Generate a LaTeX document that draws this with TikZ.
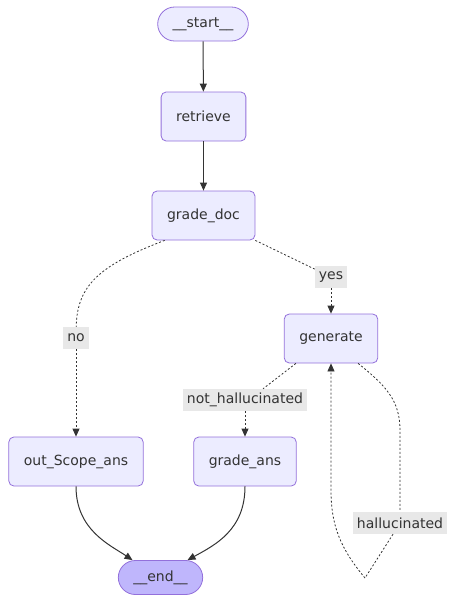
\documentclass[tikz,border=0pt]{standalone}
\usepackage{fontspec}
\setmainfont{DejaVu Sans}
\usetikzlibrary{arrows.meta}
\definecolor{nodefill}{HTML}{ECECFF}
\definecolor{nodeline}{HTML}{9370DB}
\definecolor{stopfill}{HTML}{BFB6FC}
\definecolor{lblfill}{HTML}{E8E8E8}
\definecolor{ink}{HTML}{333333}

\begin{document}
\begin{tikzpicture}[x=1pt, y=-1pt, font=\fontsize{14}{16}\selectfont, text=ink,
  box/.style={draw=nodeline, fill=nodefill, line width=0.8pt, rounded corners=5pt,
    minimum height=49pt, inner xsep=15pt},
  pill/.style={box, rounded corners=17pt, minimum height=34pt},
  lbl/.style={fill=lblfill, inner xsep=4pt, inner ysep=0pt, minimum height=22pt},
  edge/.style={draw=ink, line width=1pt, -{Triangle[length=8pt,width=7pt]}},
  cond/.style={draw=ink, line width=0.8pt, dash pattern=on 2pt off 2pt},
  condto/.style={cond, -{Triangle[length=8pt,width=7pt]}}]
  \useasboundingbox (0,0) rectangle (458,603);

  \node[pill] (start) at (203,24) {\_\_start\_\_};
  \node[box] (retrieve) at (203.5,116.5) {retrieve};
  \node[box] (gdoc) at (203.5,215.5) {grade\_doc};
  \node[box] (gen) at (331,338.5) {generate};
  \node[box] (oscope) at (76,461.5) {out\_Scope\_ans};
  \node[box] (gans) at (245,461.5) {grade\_ans};
  \node[pill, fill=stopfill] (stop) at (160.5,577.5) {\_\_end\_\_};

  \node[lbl] (yes) at (331,277) {yes};
  \node[lbl] (no) at (76,338) {no};
  \node[lbl] (nh) at (245,400) {not\_hallucinated};
  \node[lbl] (hal) at (400,523) {hallucinated};
  \coordinate (loop) at (365,578);

  \draw[edge] (start) -- (retrieve);
  \draw[edge] (retrieve) -- (gdoc);
  \draw[cond] ([xshift=13pt]gdoc.south west) .. controls (100,265) and (77,285) .. (no);
  \draw[condto] (no) -- (oscope);
  \draw[cond] (gdoc.south east) -- (yes);
  \draw[condto] (yes) -- (gen);
  \draw[cond] ([xshift=12pt]gen.south west) -- ([xshift=18pt]nh.north);
  \draw[condto] (nh) -- (gans);
  \draw[cond] ([xshift=-20pt]gen.south east) .. controls (385,385) and (400,400) .. (400,430) -- (hal);
  \draw[cond] ([xshift=-7pt]hal.south) -- (loop);
  \draw[condto] (loop) .. controls (340,548) and (331,525) .. (331,490) -- (gen);
  \draw[edge] (oscope) .. controls (76,530) and (110,545) .. ([xshift=-28pt]stop.north);
  \draw[edge] (gans) .. controls (245,530) and (215,545) .. ([xshift=27pt]stop.north);
\end{tikzpicture}
\end{document}
